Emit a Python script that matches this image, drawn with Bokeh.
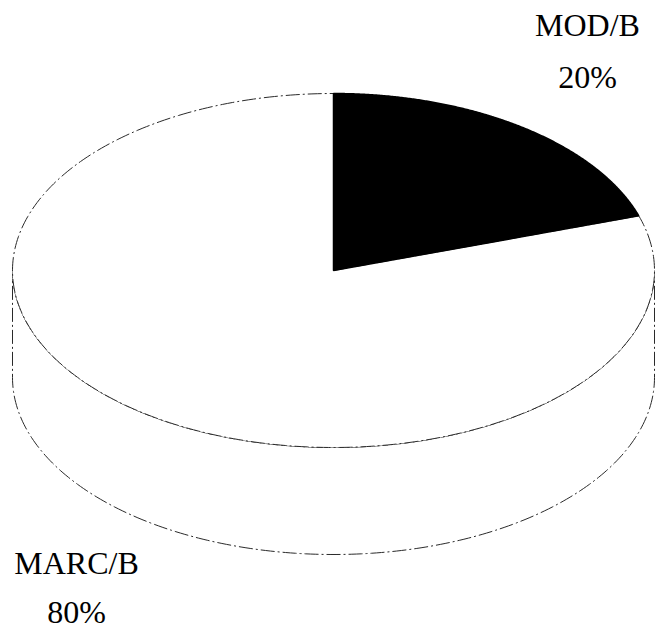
import numpy as np
from bokeh.plotting import figure
from bokeh.models import Range1d, ColumnDataSource
from bokeh.core.properties import value
from bokeh.embed import file_html
from bokeh.resources import INLINE

# ---- data ----
categories = ["MOD/B", "MARC/B"]
shares = [20, 80]
slice_colors = ["#000000", "#ffffff"]

# ---- layout (pixels) ----
W, H = 656, 632
cx, cy, rx, ry, depth = 333, 270, 321, 177, 107
label_x = [587, 76]
label_y = [24, 562]
pct_y = [76, 611]

p = figure(width=W, height=H, x_range=Range1d(0, W), y_range=Range1d(H, 0),
           output_backend="svg", toolbar_location=None, min_border=0)
p.axis.visible = False
p.grid.visible = False
p.outline_line_color = None
p.background_fill_color = "white"
p.border_fill_color = "white"

def ex(a):
    return cx + rx * np.cos(np.radians(a))

def ey(a, off=0.0):
    return cy + off - ry * np.sin(np.radians(a))

line_kw = dict(line_color="#2a2a2a", line_width=1, line_dash="14 3 2 3")

# side wall (front half)
a = np.linspace(180, 360, 200)
sx = np.concatenate([ex(a), ex(a[::-1])])
sy = np.concatenate([ey(a), ey(a[::-1], depth)])
p.patch(sx, sy, fill_color="white", **line_kw)

# top slices
total = float(sum(shares))
cum = 0.0
order = []
for cat, s, col in zip(categories, shares, slice_colors):
    a0 = 90 - cum / total * 360
    a1 = 90 - (cum + s) / total * 360
    cum += s
    order.append((cat, a0, a1, col))

# draw white (large) first, then black
for cat, a0, a1, col in sorted(order, key=lambda t: t[3] == "#000000"):
    aa = np.linspace(a0, a1, 300)
    px = np.concatenate([[cx], ex(aa), [cx]])
    py = np.concatenate([[cy], ey(aa), [cy]])
    if col == "#000000":
        p.patch(px, py, fill_color=col, line_color="black", line_width=1.5)
    else:
        p.patch(px, py, fill_color=col, **line_kw)

# labels
pct = [f"{int(round(s / total * 100))}%" for s in shares]
src = ColumnDataSource(dict(x=label_x, y=label_y, t=categories))
src2 = ColumnDataSource(dict(x=label_x, y=pct_y, t=pct))
for s in (src, src2):
    p.text(x="x", y="y", text="t", source=s, text_font=value("Liberation Serif"),
           text_font_size="32px", text_align="center", text_baseline="alphabetic",
           text_color="black")

open("out.html", "w").write(file_html(p, INLINE))
